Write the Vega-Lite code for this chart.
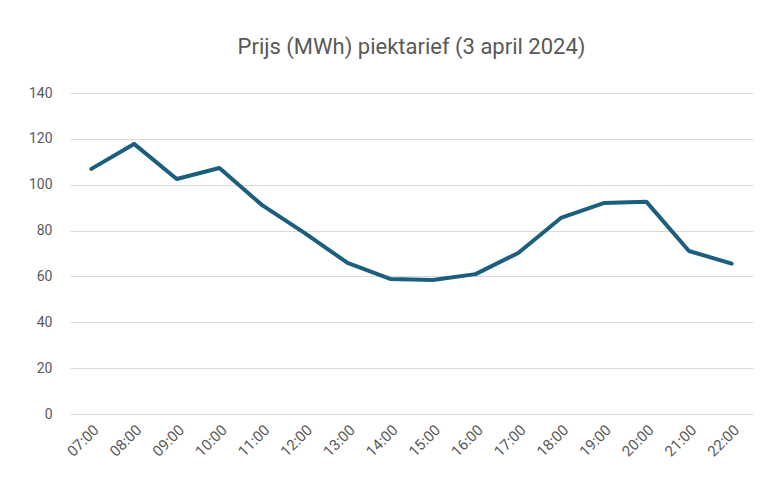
{
  "$schema": "https://vega.github.io/schema/vega-lite/v6.json",
  "autosize": {"type": "none"},
  "width": 683,
  "height": 321,
  "padding": {"left": 70, "top": 93, "right": 12, "bottom": 73},
  "background": "white",
  "title": {
    "text": "Prijs (MWh) piektarief (3 april 2024)",
    "font": "Roboto",
    "fontSize": 22,
    "fontWeight": "normal",
    "color": "#595959",
    "anchor": "middle",
    "offset": 27
  },
  "data": {
    "values": [
      {"uur": "07:00", "prijs": 106.9},
      {"uur": "08:00", "prijs": 117.8},
      {"uur": "09:00", "prijs": 102.5},
      {"uur": "10:00", "prijs": 107.3},
      {"uur": "11:00", "prijs": 91.1},
      {"uur": "12:00", "prijs": 78.9},
      {"uur": "13:00", "prijs": 65.9},
      {"uur": "14:00", "prijs": 58.9},
      {"uur": "15:00", "prijs": 58.4},
      {"uur": "16:00", "prijs": 61.0},
      {"uur": "17:00", "prijs": 70.2},
      {"uur": "18:00", "prijs": 85.5},
      {"uur": "19:00", "prijs": 92.0},
      {"uur": "20:00", "prijs": 92.6},
      {"uur": "21:00", "prijs": 71.1},
      {"uur": "22:00", "prijs": 65.6}
    ]
  },
  "mark": {"type": "line", "color": "#1b5e7e", "strokeWidth": 4, "strokeJoin": "round", "strokeCap": "round"},
  "encoding": {
    "x": {
      "field": "uur",
      "type": "ordinal",
      "sort": null,
      "scale": {"type": "band", "paddingInner": 0, "paddingOuter": 0},
      "axis": {
        "title": null,
        "labelAngle": -45,
        "labelFont": "Roboto",
        "labelFontSize": 15,
        "labelColor": "#595959",
        "ticks": false,
        "domain": false,
        "grid": false,
        "labelPadding": 8
      }
    },
    "y": {
      "field": "prijs",
      "type": "quantitative",
      "scale": {"domain": [0, 140]},
      "axis": {
        "title": null,
        "values": [0, 20, 40, 60, 80, 100, 120, 140],
        "labelFont": "Roboto",
        "labelFontSize": 14,
        "labelColor": "#595959",
        "ticks": false,
        "domain": false,
        "gridColor": "#d9d9d9",
        "gridWidth": 1,
        "labelPadding": 18
      }
    }
  },
  "config": {"view": {"stroke": null}}
}
